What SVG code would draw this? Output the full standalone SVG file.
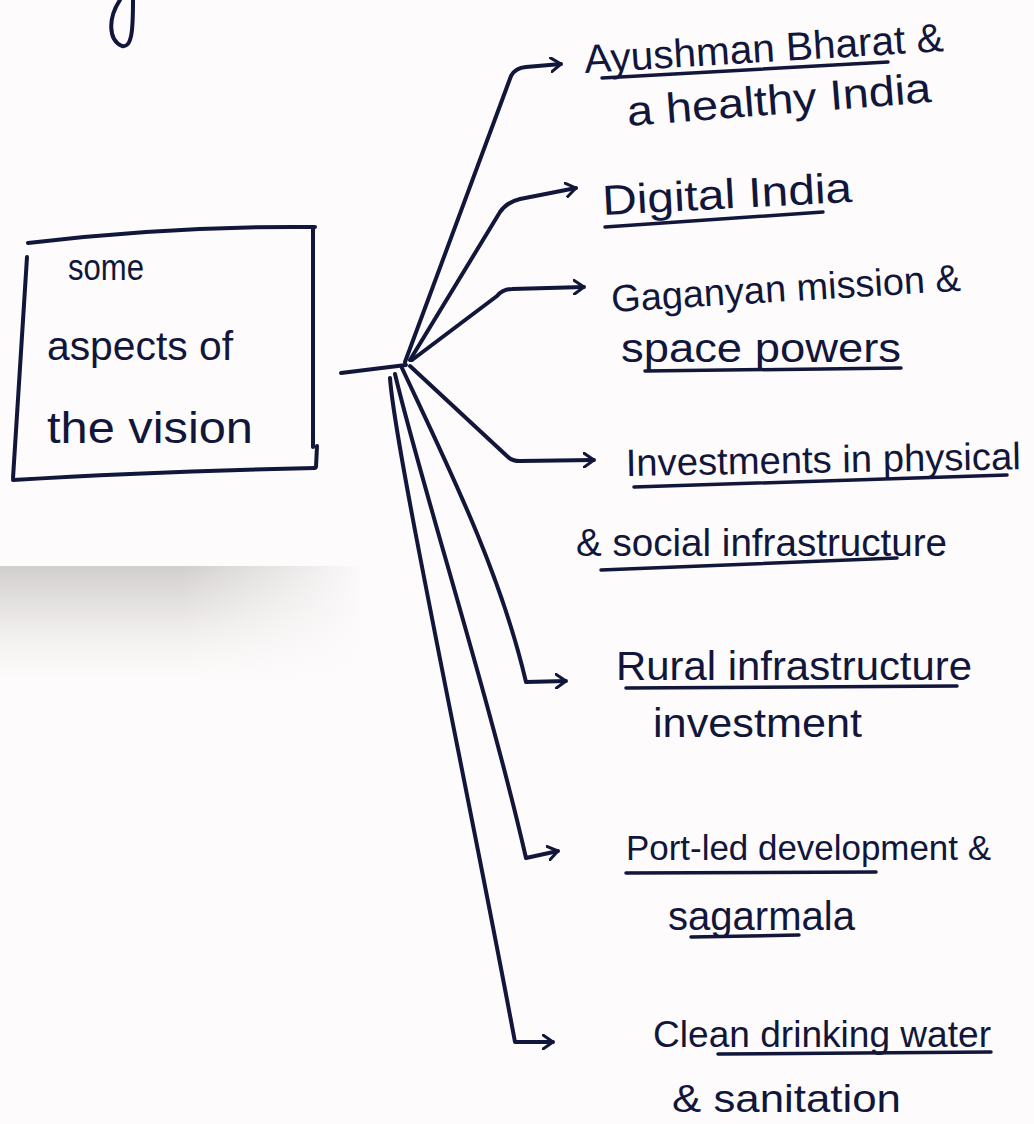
<svg xmlns="http://www.w3.org/2000/svg" width="1034" height="1124" viewBox="0 0 1034 1124">
<defs>
<style>
.ink{fill:none;stroke:#11163a;stroke-width:4;stroke-linecap:round;stroke-linejoin:round}
.ul{fill:none;stroke:#11163a;stroke-width:3.5;stroke-linecap:round}
.t{font-family:"Liberation Sans",Arial,sans-serif;font-size:40px;fill:#11163a}
</style>
<marker id="ah" viewBox="0 0 12 16" refX="11" refY="8" markerWidth="12" markerHeight="16" markerUnits="userSpaceOnUse" orient="auto">
<path d="M1,1 L11,8 L1,15" fill="none" stroke="#11163a" stroke-width="3" stroke-linecap="round" stroke-linejoin="round"/>
</marker>
<linearGradient id="smudge" x1="0" y1="0" x2="0" y2="1">
<stop offset="0" stop-color="#cfcbcb" stop-opacity="0.95"/>
<stop offset="0.35" stop-color="#dcd8d8" stop-opacity="0.7"/>
<stop offset="1" stop-color="#f3eeee" stop-opacity="0"/>
</linearGradient>
<linearGradient id="smudgeH" x1="0" y1="0" x2="1" y2="0">
<stop offset="0" stop-color="#fdfbfb" stop-opacity="0"/>
<stop offset="1" stop-color="#fdfbfb" stop-opacity="1"/>
</linearGradient>
</defs>
<rect width="1034" height="1124" fill="#fdfbfb"/>
<rect x="0" y="566" width="360" height="120" fill="url(#smudge)"/>
<rect x="180" y="560" width="190" height="130" fill="url(#smudgeH)"/>
<path class="ink" d="M120,0 C108,18 108,40 122,46 C132,48 133,30 133,0"/>

<g id="center">
<path class="ink" d="M28,243 C120,232 220,226 315,227"/>
<path class="ink" d="M313,227 L313,447"/>
<path class="ink" d="M317,446 L316,467"/>
<path class="ink" d="M27,257 L13,478"/>
<path class="ink" d="M13,480 C110,474 220,470 315,468"/>
<text class="t" x="68" y="280" style="font-size:36px" textLength="76" lengthAdjust="spacingAndGlyphs">some</text>
<text class="t" x="47" y="360" textLength="186" lengthAdjust="spacingAndGlyphs">aspects of</text>
<text class="t" x="47" y="443" style="font-size:44px" textLength="206" lengthAdjust="spacingAndGlyphs">the vision</text>
</g>

<g id="connectors">
<path class="ink" d="M341,373 L406,365"/>
<path class="ink" marker-end="url(#ah)" d="M405,362 L511,76 Q515,68 526,67 L561,64"/>
<path class="ink" marker-end="url(#ah)" d="M410,360 L500,212 Q507,202 520,199 L576,188"/>
<path class="ink" marker-end="url(#ah)" d="M412,360 L497,296 Q503,289 512,289 L584,287"/>
<path class="ink" marker-end="url(#ah)" d="M410,366 L508,457 Q512,461 520,461 L594,460"/>
<path class="ink" marker-end="url(#ah)" d="M402,368 C445,460 500,570 526,682 L566,681"/>
<path class="ink" marker-end="url(#ah)" d="M395,374 C420,480 490,700 526,858 L558,851"/>
<path class="ink" marker-end="url(#ah)" d="M390,378 C395,450 470,800 515,1042 L553,1042"/>
</g>

<g id="n1">
<text class="t" x="585" y="73" textLength="360" lengthAdjust="spacingAndGlyphs" transform="rotate(-3.5 585 73)">Ayushman Bharat &amp;</text>
<path class="ul" d="M602,78 L888,62"/>
<text class="t" x="628" y="126" style="font-size:42px" textLength="305" lengthAdjust="spacingAndGlyphs" transform="rotate(-4.5 628 126)">a healthy India</text>
</g>

<g id="n2">
<text class="t" x="603" y="215" style="font-size:42px" textLength="250" lengthAdjust="spacingAndGlyphs" transform="rotate(-3 603 215)">Digital India</text>
<path class="ul" d="M605,227 L823,212"/>
</g>

<g id="n3">
<text class="t" x="612" y="312" style="font-size:38px" textLength="350" lengthAdjust="spacingAndGlyphs" transform="rotate(-3.5 612 312)">Gaganyan mission &amp;</text>
<text class="t" x="621" y="362" textLength="280" lengthAdjust="spacingAndGlyphs">space powers</text>
<path class="ul" d="M645,371 L901,368"/>
</g>

<g id="n4">
<text class="t" x="626" y="476" style="font-size:38px" textLength="395" lengthAdjust="spacingAndGlyphs" transform="rotate(-1 626 476)">Investments in physical</text>
<path class="ul" d="M634,487 L1007,475"/>
<text class="t" x="576" y="556" style="font-size:38px" textLength="371" lengthAdjust="spacingAndGlyphs">&amp; social infrastructure</text>
<path class="ul" d="M601,570 L897,558"/>
</g>

<g id="n5">
<text class="t" x="616" y="680" style="font-size:41px" textLength="356" lengthAdjust="spacingAndGlyphs">Rural infrastructure</text>
<path class="ul" d="M626,688 L957,686"/>
<text class="t" x="653" y="737" textLength="209" lengthAdjust="spacingAndGlyphs">investment</text>
</g>

<g id="n6">
<text class="t" x="626" y="860" style="font-size:35px" textLength="365" lengthAdjust="spacingAndGlyphs">Port-led development &amp;</text>
<path class="ul" d="M626,873 L876,872"/>
<text class="t" x="668" y="930" textLength="187" lengthAdjust="spacingAndGlyphs">sagarmala</text>
<path class="ul" d="M691,937 L799,935"/>
</g>

<g id="n7">
<text class="t" x="653" y="1047" style="font-size:37px" textLength="338" lengthAdjust="spacingAndGlyphs">Clean drinking water</text>
<path class="ul" d="M718,1054 L991,1052"/>
<text class="t" x="672" y="1112" style="font-size:38px" textLength="229" lengthAdjust="spacingAndGlyphs">&amp; sanitation</text>
</g>
</svg>
